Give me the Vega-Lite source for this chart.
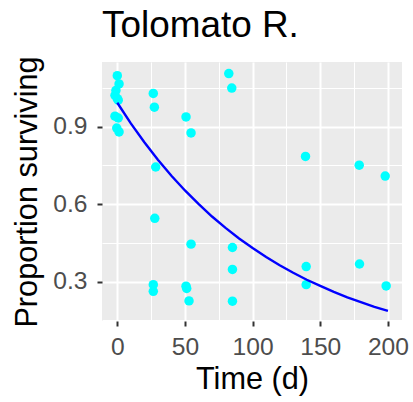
{
  "$schema": "https://vega.github.io/schema/vega-lite/v6.json",
  "width": 300,
  "height": 259,
  "autosize": {"type": "none"},
  "padding": {"left": 102, "top": 62, "right": 11, "bottom": 81},
  "background": "#FFFFFF",
  "title": {
    "text": "Tolomato R.",
    "anchor": "start",
    "frame": "group",
    "font": "Liberation Sans",
    "fontSize": 36.9,
    "fontWeight": "normal",
    "color": "#000000",
    "baseline": "bottom",
    "offset": -26
  },
  "config": {
    "view": {"fill": "#EBEBEB", "stroke": null},
    "axis": {
      "labelFont": "Liberation Sans",
      "labelFontSize": 24.6,
      "labelColor": "#4D4D4D",
      "titleFont": "Liberation Sans",
      "titleFontSize": 30.7,
      "titleFontWeight": "normal",
      "titleColor": "#000000",
      "domain": false,
      "gridColor": "#FFFFFF",
      "gridOpacity": 1,
      "tickColor": "#333333",
      "tickWidth": 2,
      "tickSize": 5
    }
  },
  "datasets": {
    "points": [
      {"time": 0.0, "prop": 1.098},
      {"time": 1.3, "prop": 1.066},
      {"time": -1.0, "prop": 1.041},
      {"time": -1.7, "prop": 1.022},
      {"time": 0.0, "prop": 1.009},
      {"time": 0.7, "prop": 1.003},
      {"time": -1.7, "prop": 0.941},
      {"time": 0.7, "prop": 0.934},
      {"time": -0.4, "prop": 0.895},
      {"time": 1.3, "prop": 0.880},
      {"time": 26.6, "prop": 1.029},
      {"time": 27.4, "prop": 0.976},
      {"time": 50.8, "prop": 0.938},
      {"time": 54.5, "prop": 0.876},
      {"time": 28.4, "prop": 0.744},
      {"time": 27.7, "prop": 0.545},
      {"time": 54.5, "prop": 0.445},
      {"time": 85.1, "prop": 0.432},
      {"time": 85.1, "prop": 0.347},
      {"time": 26.6, "prop": 0.288},
      {"time": 26.6, "prop": 0.262},
      {"time": 50.8, "prop": 0.282},
      {"time": 51.3, "prop": 0.273},
      {"time": 53.0, "prop": 0.225},
      {"time": 85.1, "prop": 0.224},
      {"time": 82.4, "prop": 1.106},
      {"time": 84.6, "prop": 1.050},
      {"time": 139.1, "prop": 0.785},
      {"time": 178.8, "prop": 0.751},
      {"time": 198.0, "prop": 0.709},
      {"time": 139.6, "prop": 0.358},
      {"time": 139.6, "prop": 0.288},
      {"time": 179.0, "prop": 0.368},
      {"time": 198.7, "prop": 0.283}
    ],
    "curve": [
      {"time": 0, "prop": 0.993},
      {"time": 10, "prop": 0.913},
      {"time": 20, "prop": 0.840},
      {"time": 30, "prop": 0.772},
      {"time": 40, "prop": 0.710},
      {"time": 50, "prop": 0.653},
      {"time": 60, "prop": 0.601},
      {"time": 70, "prop": 0.552},
      {"time": 80, "prop": 0.508},
      {"time": 90, "prop": 0.467},
      {"time": 100, "prop": 0.430},
      {"time": 110, "prop": 0.395},
      {"time": 120, "prop": 0.363},
      {"time": 130, "prop": 0.334},
      {"time": 140, "prop": 0.307},
      {"time": 150, "prop": 0.283},
      {"time": 160, "prop": 0.260},
      {"time": 170, "prop": 0.239},
      {"time": 180, "prop": 0.220},
      {"time": 190, "prop": 0.202},
      {"time": 200, "prop": 0.186}
    ]
  },
  "layer": [
    {
      "data": {"name": "points"},
      "mark": {"type": "point", "filled": true, "size": 90, "color": "#00FFFF", "opacity": 1},
      "encoding": {
        "x": {
          "field": "time", "type": "quantitative",
          "scale": {"domain": [-11.3, 210.4], "nice": false, "zero": false},
          "axis": {"orient": "top", "values": [25, 75, 125, 175], "grid": true, "gridWidth": 1, "labels": false, "ticks": false, "domain": false, "title": null, "minExtent": 0, "maxExtent": 0, "offset": 0}
        },
        "y": {
          "field": "prop", "type": "quantitative",
          "scale": {"domain": [0.147, 1.151], "nice": false, "zero": false},
          "axis": {"orient": "right", "values": [0.15, 0.45, 0.75, 1.05], "grid": true, "gridWidth": 1, "labels": false, "ticks": false, "domain": false, "title": null, "minExtent": 0, "maxExtent": 0, "offset": 0}
        }
      }
    },
    {
      "data": {"name": "curve"},
      "mark": {"type": "line", "color": "#0000FF", "strokeWidth": 2.4},
      "encoding": {
        "x": {
          "field": "time", "type": "quantitative",
          "scale": {"domain": [-11.3, 210.4], "nice": false, "zero": false},
          "axis": {"orient": "bottom", "values": [0, 50, 100, 150, 200], "grid": true, "gridWidth": 2, "labelPadding": 9, "titlePadding": 6, "title": "Time (d)"}
        },
        "y": {
          "field": "prop", "type": "quantitative",
          "scale": {"domain": [0.147, 1.151], "nice": false, "zero": false},
          "axis": {"orient": "left", "values": [0.3, 0.6, 0.9], "format": ".1f", "grid": true, "gridWidth": 2, "labelPadding": 10, "titlePadding": 10, "title": "Proportion surviving"}
        }
      }
    }
  ],
  "resolve": {"axis": {"x": "independent", "y": "independent"}}
}
